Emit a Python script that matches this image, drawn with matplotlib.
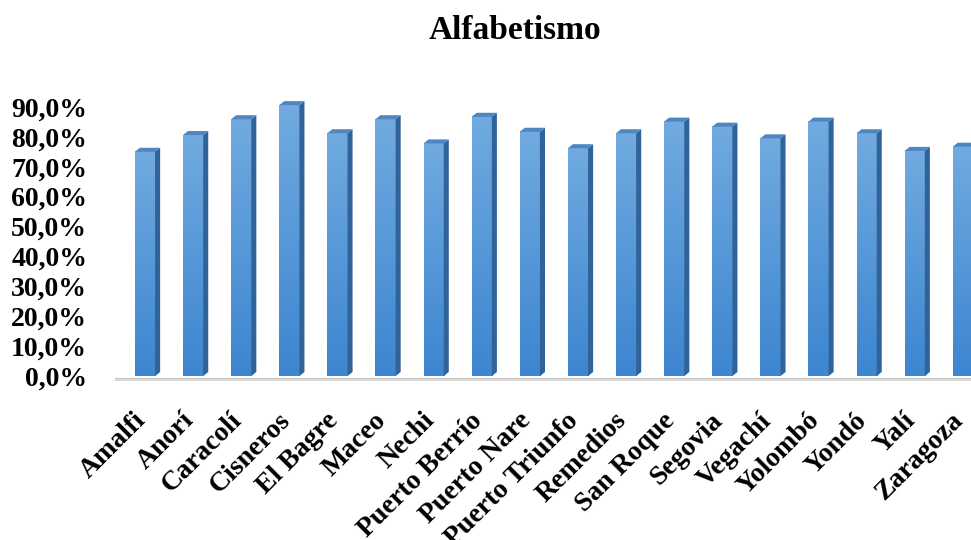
import numpy as np
import matplotlib
matplotlib.use("Agg")
import matplotlib.pyplot as plt
import matplotlib.transforms as mtransforms
from matplotlib.patches import Polygon
from matplotlib.colors import LinearSegmentedColormap

municipios = ['Amalfi', 'Anorí', 'Caracolí', 'Cisneros', 'El Bagre', 'Maceo',
              'Nechi', 'Puerto Berrío', 'Puerto Nare', 'Puerto Triunfo',
              'Remedios', 'San Roque', 'Segovia', 'Vegachí', 'Yolombó',
              'Yondó', 'Yalí', 'Zaragoza']
alfabetismo = [75.0, 80.6, 85.9, 90.6, 81.2, 85.9, 77.8, 86.7, 81.7, 76.2,
               81.2, 85.1, 83.4, 79.5, 85.1, 81.2, 75.3, 76.7]
yticks = list(range(0, 91, 10))

plt.rcParams['font.family'] = ['Liberation Serif', 'DejaVu Serif']
plt.rcParams['font.weight'] = 'bold'

fig = plt.figure(figsize=(9.71, 5.4), dpi=100)
ax = fig.add_axes([0.1184, 0.2898, 0.8816, 0.5398])

w = 0.42    # front face width
dx = 0.105  # depth, x
dy = 1.35   # depth, y
grad = LinearSegmentedColormap.from_list('g', ['#3d86d0', '#70aae0'])
ramp = np.linspace(0, 1, 64).reshape(-1, 1)

# floor
ax.axhspan(-1.8, -0.5, color='#d9d9d9', lw=0, zorder=1)
ax.axhline(-0.5, color='#c8c8c8', lw=0.8, zorder=1)

for i, v in enumerate(alfabetismo):
    x0, x1 = i - w / 2, i + w / 2
    ax.imshow(ramp, cmap=grad, origin='lower', aspect='auto',
              extent=[x0, x1, 0, v], zorder=3)
    ax.add_patch(Polygon([(x1, 0), (x1 + dx, dy), (x1 + dx, v + dy), (x1, v)],
                         closed=True, fc='#30639a', ec='none', zorder=3))
    ax.add_patch(Polygon([(x0, v), (x0 + dx, v + dy), (x1 + dx, v + dy), (x1, v)],
                         closed=True, fc='#4d86c2', ec='none', zorder=3))

ax.set_xlim(-0.624, 17.17)
ax.set_ylim(-2.5, 95)

ax.set_yticks(yticks)
ax.set_yticklabels([f"{t:.1f}%".replace('.', ',') for t in yticks],
                   fontsize=20, fontweight='bold')
ax.set_xticks(range(len(municipios)))
ax.set_xticklabels(municipios, rotation=45, ha='right', va='center',
                   rotation_mode='anchor', fontsize=20, fontweight='bold')
ax.tick_params(axis='both', length=0)
ax.tick_params(axis='y', pad=20)
ax.tick_params(axis='x', pad=24)
shift = mtransforms.ScaledTranslation(-3 / 100, 0, fig.dpi_scale_trans)
for lbl in ax.get_xticklabels():
    lbl.set_transform(lbl.get_transform() + shift)
for s in ax.spines.values():
    s.set_visible(False)

fig.text(0.530, 0.944, 'Alfabetismo', ha='center', va='center',
         fontsize=24, fontweight='bold')

fig.savefig('out.png', dpi=100)
